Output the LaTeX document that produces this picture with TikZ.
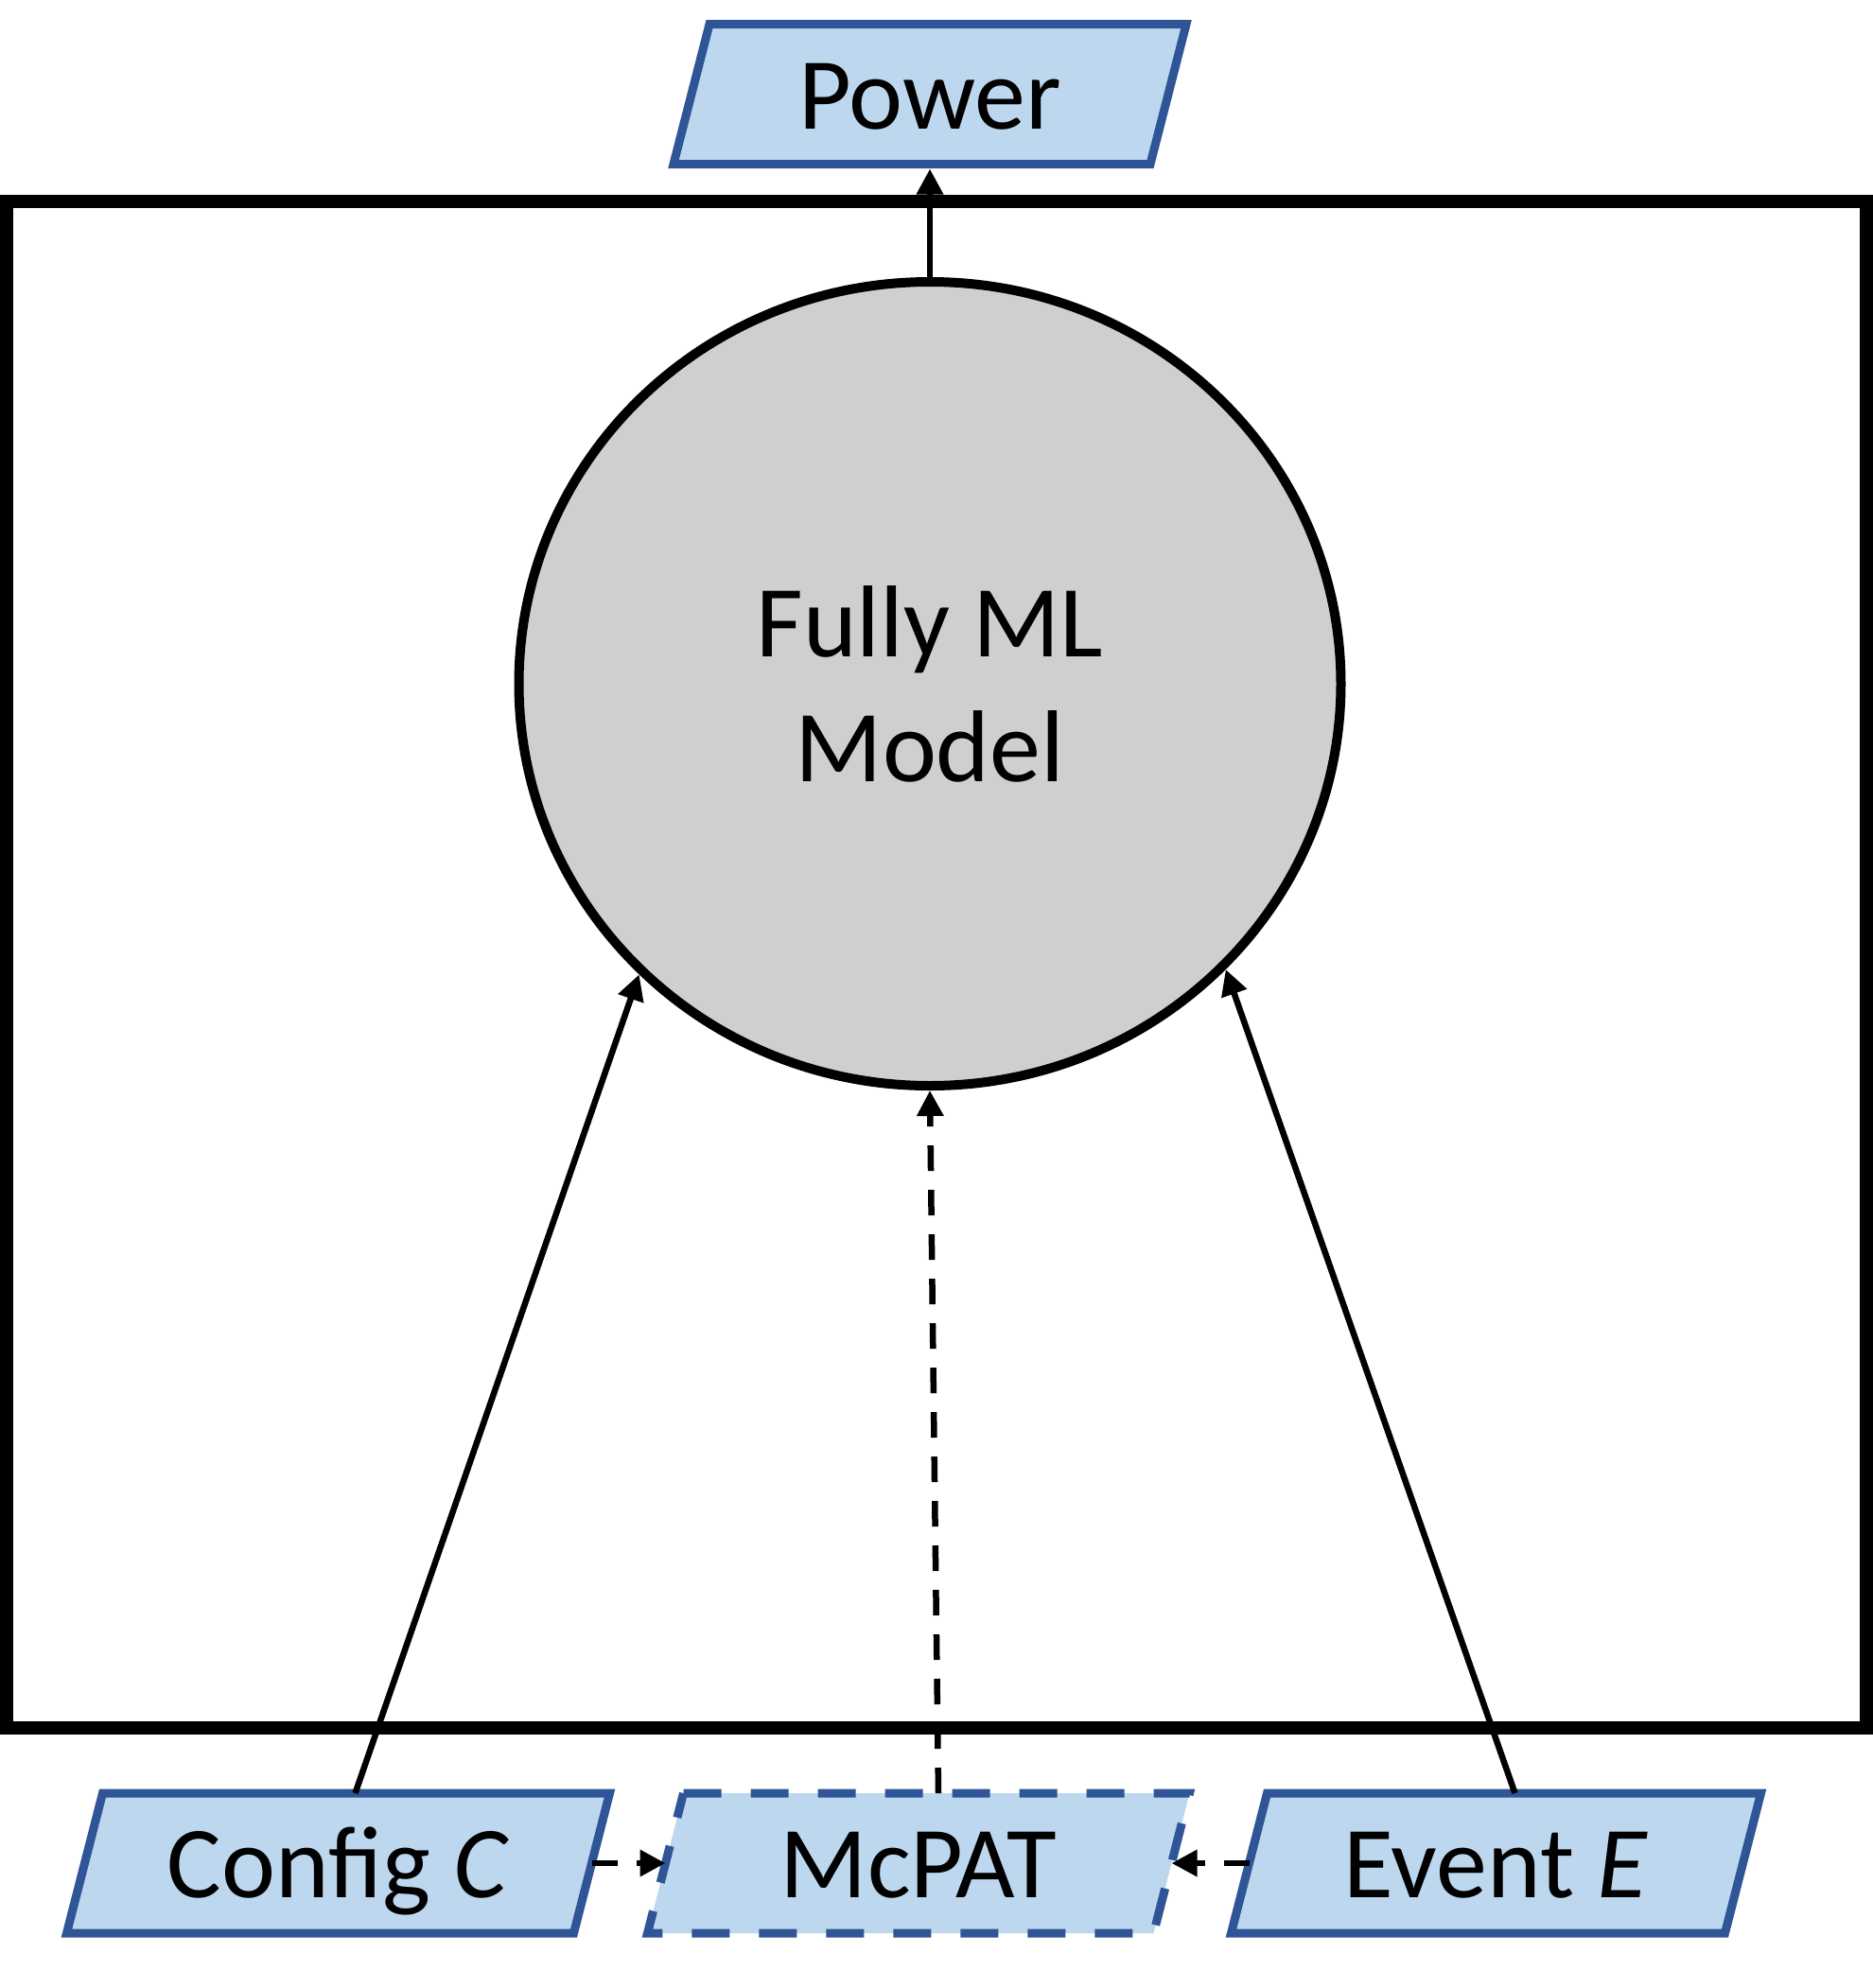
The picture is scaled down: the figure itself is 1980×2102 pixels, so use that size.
\documentclass[tikz,border=0pt]{standalone}
\usepackage{fontspec}
\setmainfont{Carlito}
\usetikzlibrary{arrows.meta,shapes.geometric,calc,backgrounds}
\definecolor{boxfill}{HTML}{BDD7EE}
\definecolor{boxline}{HTML}{2F5597}
\definecolor{modelfill}{HTML}{D0CECE}
\newcommand{\slantbox}[2]{\draw[#1] ($(#2.north west)+(19,0)$) -- ($(#2.north east)+(19,0)$) -- ($(#2.south east)+(-19,0)$) -- ($(#2.south west)+(-19,0)$) -- cycle;}
\begin{document}
\begin{tikzpicture}[x=1pt,y=-1pt,
  lbl/.style={font=\fontsize{108}{132}\selectfont, text height=73pt, text depth=0pt, inner sep=0pt, outer sep=0pt, minimum height=148pt},
  slantfill/.style={fill=boxfill, draw=boxline, line width=9pt, line join=miter},
  conn/.style={line width=6.5pt, -{Triangle[length=27pt,width=27pt]}},
  dconn/.style={conn, dash pattern=on 27pt off 20pt},
]
\useasboundingbox (0,0) rectangle (1980,2102);
\node[draw, line width=14pt, minimum width=1966pt, minimum height=1614pt, inner sep=0pt, outer sep=0pt] (frame) at (990,1020) {};
\node[ellipse, draw, line width=10pt, fill=modelfill, minimum width=869pt, minimum height=850pt, inner sep=0pt, align=center, font=\fontsize{108}{132}\selectfont] (fml) at (983,723) {Fully ML\\Model};
\node[lbl, minimum width=504pt] (pow) at (983,99.5) {Power};
\node[lbl, minimum width=536pt] (cfg) at (357.5,1970) {Config \textit{C}};
\node[lbl, minimum width=535pt] (mcp) at (971,1970) {McPAT};
\node[lbl, minimum width=522pt] (evt) at (1581.5,1970) {Event \textit{E}};
\begin{scope}[on background layer]
\slantbox{slantfill}{pow}
\slantbox{slantfill}{cfg}
\slantbox{slantfill, dash pattern=on 40pt off 31pt}{mcp}
\slantbox{slantfill}{evt}
\end{scope}
\draw[conn] (fml.north) -- ($(pow.south)+(0,5)$);
\draw[conn] ($(cfg.north)+(18,0)$) -- (fml.-135.3);
\draw[conn] ($(evt.north)+(20,0)$) -- (fml.-44.7);
\draw[dconn] ($(mcp.north)+(21,0)$) -- (fml.south);
\draw[dconn] (cfg.east) -- (mcp.west);
\draw[dconn] (evt.west) -- (mcp.east);
\end{tikzpicture}
\end{document}
